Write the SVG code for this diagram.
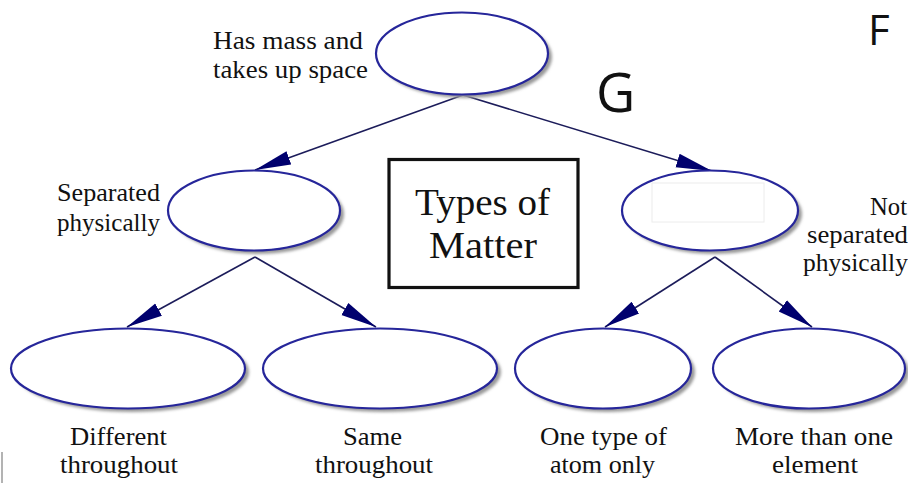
<svg xmlns="http://www.w3.org/2000/svg" width="908" height="483" viewBox="0 0 908 483">
<style>
.lbl{font-family:"Liberation Serif","Times New Roman",serif;font-size:25px;fill:#111}
.title{font-family:"Liberation Serif","Times New Roman",serif;font-size:38px;fill:#111}
.ann{font-family:"Open Sans","Noto Sans",sans-serif;fill:#111}
.shadow{fill:#999;filter:url(#blur)}
.node{fill:#fff;stroke:#26269a;stroke-width:2.2}
.conn{stroke:#1c1c5a;stroke-width:1.6;fill:none;marker-end:url(#head)}
</style>
<defs>
<filter id="blur" x="-10%" y="-10%" width="120%" height="130%"><feGaussianBlur stdDeviation="1.5"/></filter>
<marker id="head" markerUnits="userSpaceOnUse" markerWidth="38" markerHeight="16" refX="36" refY="8" orient="auto">
<path d="M0,1 L36,8 L0,15 Z" fill="#00006e"/>
</marker>
</defs>
<rect width="908" height="483" fill="#fff"/>

<g id="connectors">
<line class="conn" x1="463" y1="95" x2="255" y2="170"/>
<line class="conn" x1="463" y1="95" x2="712" y2="171"/>
<line class="conn" x1="255" y1="257" x2="127" y2="327"/>
<line class="conn" x1="255" y1="257" x2="376" y2="327"/>
<line class="conn" x1="715" y1="257" x2="605" y2="327"/>
<line class="conn" x1="715" y1="257" x2="812" y2="327"/>
</g>

<g id="node-top">
<ellipse class="shadow" cx="466" cy="57" rx="86" ry="41"/>
<ellipse class="node" cx="462" cy="53.5" rx="86" ry="41"/>
<text class="lbl" x="213" y="49" textLength="150" lengthAdjust="spacingAndGlyphs">Has mass and</text>
<text class="lbl" x="213" y="78" textLength="155" lengthAdjust="spacingAndGlyphs">takes up space</text>
</g>

<g id="node-left">
<ellipse class="shadow" cx="258" cy="214" rx="86" ry="40"/>
<ellipse class="node" cx="254" cy="210.5" rx="86" ry="40"/>
<text class="lbl" x="57" y="201" textLength="103" lengthAdjust="spacingAndGlyphs">Separated</text>
<text class="lbl" x="57" y="231" textLength="103" lengthAdjust="spacingAndGlyphs">physically</text>
</g>

<g id="node-right">
<ellipse class="shadow" cx="714" cy="214" rx="88" ry="40"/>
<ellipse class="node" cx="710" cy="210.5" rx="88" ry="40"/>
<rect x="652" y="183" width="112" height="39" fill="#fff" stroke="#ececec" stroke-width="1"/>
<text class="lbl" x="870" y="215" textLength="37" lengthAdjust="spacingAndGlyphs">Not</text>
<text class="lbl" x="807" y="243" textLength="101" lengthAdjust="spacingAndGlyphs">separated</text>
<text class="lbl" x="803" y="271" textLength="105" lengthAdjust="spacingAndGlyphs">physically</text>
</g>

<g id="title">
<rect x="389" y="159.5" width="189" height="128" fill="#fff" stroke="#111" stroke-width="3.2"/>
<text class="title" x="415" y="215" textLength="135" lengthAdjust="spacingAndGlyphs">Types of</text>
<text class="title" x="429" y="258" textLength="108" lengthAdjust="spacingAndGlyphs">Matter</text>
</g>

<g id="node-different">
<ellipse class="shadow" cx="132" cy="372" rx="117" ry="40"/>
<ellipse class="node" cx="128" cy="368.5" rx="117" ry="40"/>
<text class="lbl" x="70" y="445" textLength="97" lengthAdjust="spacingAndGlyphs">Different</text>
<text class="lbl" x="60" y="473" textLength="118" lengthAdjust="spacingAndGlyphs">throughout</text>
</g>

<g id="node-same">
<ellipse class="shadow" cx="384" cy="372" rx="117" ry="40"/>
<ellipse class="node" cx="380" cy="368.5" rx="117" ry="40"/>
<text class="lbl" x="343" y="445" textLength="59" lengthAdjust="spacingAndGlyphs">Same</text>
<text class="lbl" x="315" y="473" textLength="118" lengthAdjust="spacingAndGlyphs">throughout</text>
</g>

<g id="node-element">
<ellipse class="shadow" cx="607" cy="372" rx="88" ry="40"/>
<ellipse class="node" cx="603" cy="368.5" rx="88" ry="40"/>
<text class="lbl" x="540" y="445" textLength="127" lengthAdjust="spacingAndGlyphs">One type of</text>
<text class="lbl" x="550" y="473" textLength="105" lengthAdjust="spacingAndGlyphs">atom only</text>
</g>

<g id="node-compound">
<ellipse class="shadow" cx="813" cy="372" rx="96" ry="40"/>
<ellipse class="node" cx="809" cy="368.5" rx="96" ry="40"/>
<text class="lbl" x="735" y="445" textLength="158" lengthAdjust="spacingAndGlyphs">More than one</text>
<text class="lbl" x="772" y="473" textLength="86" lengthAdjust="spacingAndGlyphs">element</text>
</g>

<g id="annotations">
<text class="ann" x="596" y="112" font-size="54">G</text>
<text class="ann" x="868" y="45" font-size="42">F</text>
<line x1="2" y1="452" x2="2" y2="483" stroke="#9a9a9a" stroke-width="1.5"/>
</g>
</svg>
